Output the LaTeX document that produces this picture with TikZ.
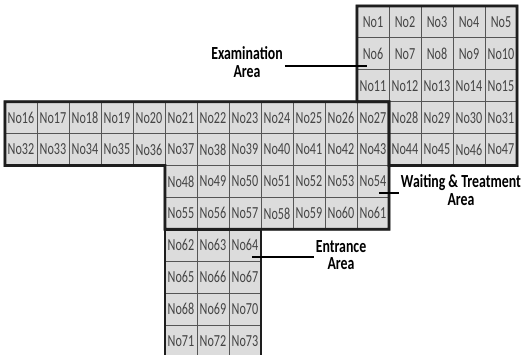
\documentclass[tikz,border=0pt]{standalone}
\usepackage{fontspec}
\usetikzlibrary{backgrounds}
\newfontfamily\cellfont[FakeStretch=0.72]{Carlito}
\newfontfamily\areafont[FakeStretch=0.75]{Carlito}
\definecolor{cellgray}{HTML}{DCDCDC}
\definecolor{linegray}{HTML}{555555}
\definecolor{textgray}{HTML}{444444}
\definecolor{zonedark}{HTML}{1E1E1E}
\definecolor{shadowgray}{HTML}{9A9A9A}

\begin{document}
\begin{tikzpicture}[x=0.02cm,y=-0.02cm,
  cell/.style={draw=linegray,line width=0.55pt,fill=cellgray,
    minimum width=0.64cm,minimum height=0.638cm,inner sep=0pt,outer sep=0pt,
    text=textgray,font=\cellfont\fontsize{9.6}{10}\selectfont},
  zone/.style={draw=zonedark,line width=1.6pt},
  zoneshadow/.style={draw=shadowgray,line width=1.6pt,shift={(2,2)}},
  area/.style={font=\areafont\bfseries\fontsize{10.5}{10}\selectfont,align=center,inner sep=1pt},
  leader/.style={draw=black,line width=0.6pt}]

\useasboundingbox (0,0) rectangle (522,355);
\clip (0,0) rectangle (522,355);

% rooms, row by row: row / first col / last col / first number
\foreach \r/\ca/\cb/\na in {1/12/16/1,2/12/16/6,3/12/16/11,4/1/16/16,5/1/16/32,
    6/6/12/48,7/6/12/55,8/6/8/62,9/6/8/65,10/6/8/68,11/6/8/71}
  \foreach \c in {\ca,...,\cb}{
    \pgfmathtruncatemacro{\n}{\na+\c-\ca}
    \node [cell] (n\n) at ({5+32*(\c-0.5)},{6+31.9*(\r-0.5)}) {No\n};
  }

% zone outlines
\begin{scope}[on background layer]
\draw [zoneshadow] (n1.north west) -- (n5.north east) -- (n47.south east) -- (n44.south west)
  -- (n28.north west) -- (n11.south west) -- cycle;
\draw [zoneshadow] (n16.north west) -- (n27.north east) -- (n61.south east) -- (n55.south west)
  -- (n48.north west) -- (n32.south west) -- cycle;
\draw [zoneshadow] (n71.south west) -- (n62.north west) -- (n64.north east) -- (n73.south east);
\end{scope}
\draw [zone] (n1.north west) -- (n5.north east) -- (n47.south east) -- (n44.south west)
  -- (n28.north west) -- (n11.south west) -- cycle;
\draw [zone] (n16.north west) -- (n27.north east) -- (n61.south east) -- (n55.south west)
  -- (n48.north west) -- (n32.south west) -- cycle;
\draw [zone] (n71.south west) -- (n62.north west) -- (n64.north east) -- (n73.south east);

% area labels
\node [area] (exam) at (247,62) {Examination\\Area};
\node [area] (wait) at (461,190) {Waiting \& Treatment\\Area};
\node [area] (entr) at (341,255) {Entrance\\Area};

\coordinate (examend) at (367,66);
\coordinate (waitend) at (379,193);
\coordinate (entrend) at (252,257);
\draw [leader] (exam.east |- examend) -- (examend);
\draw [leader] (waitend) -- (wait.west |- waitend);
\draw [leader] (entrend) -- (entr.west |- entrend);

\end{tikzpicture}
\end{document}
